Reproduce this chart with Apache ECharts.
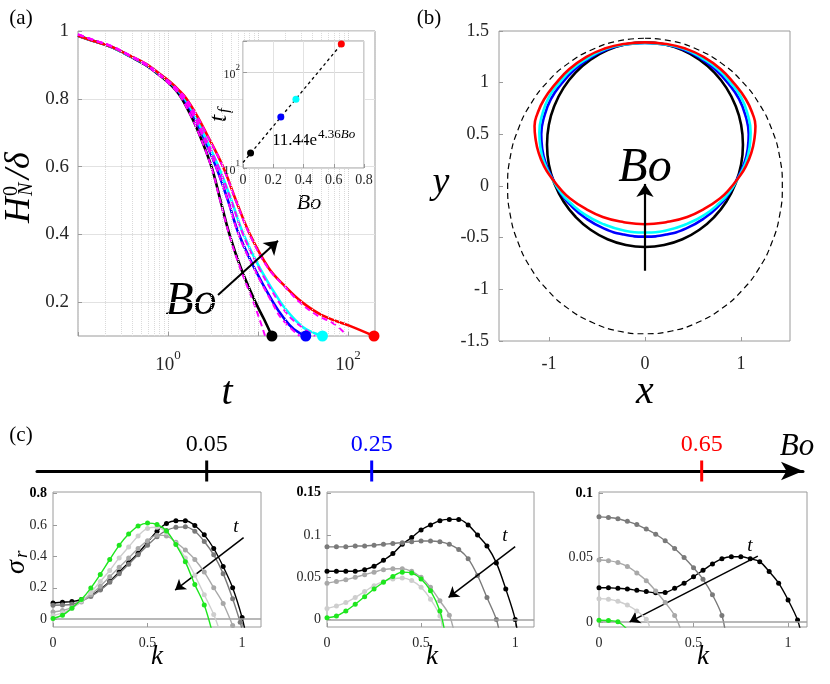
<!DOCTYPE html>
<html><head><meta charset="utf-8">
<script src="https://cdn.jsdelivr.net/npm/echarts@6/dist/echarts.min.js"></script>
<style>html,body{margin:0;padding:0;background:#fff}#c{width:830px;height:684px}</style>
</head><body><div id="c"></div>
<script>
// ---------------- DATA ----------------
// (a) H_N^0/delta versus t  (pairs [t, H])
const aBlack = [[0.1,0.986],[0.143,0.972],[0.239,0.952],[0.378,0.925],[0.562,0.9],[0.755,0.875],[0.987,0.85],[1.227,0.825],[1.431,0.8],[1.801,0.75],[2.193,0.7],[3.043,0.6],[3.831,0.5],[4.825,0.4],[6.473,0.3],[9.38,0.2],[11.66,0.15],[14.3,0.1]];
const aBlue = [[0.1,0.986],[0.143,0.972],[0.239,0.952],[0.378,0.926],[0.565,0.901],[0.774,0.875],[1.026,0.85],[1.275,0.825],[1.506,0.8],[1.92,0.75],[2.356,0.7],[3.415,0.6],[4.64,0.5],[6.15,0.4],[9.14,0.3],[14.7,0.2],[19.7,0.15],[25.1,0.12],[34,0.1]];
const aCyan = [[0.1,0.986],[0.143,0.972],[0.239,0.952],[0.378,0.926],[0.567,0.902],[0.784,0.875],[1.039,0.85],[1.292,0.825],[1.545,0.8],[1.995,0.75],[2.448,0.7],[3.64,0.6],[5.08,0.5],[6.9,0.4],[10.5,0.3],[17.8,0.2],[25.4,0.15],[34.1,0.12],[52.1,0.1]];
const aRed = [[0.1,0.986],[0.143,0.972],[0.239,0.953],[0.378,0.927],[0.57,0.903],[0.794,0.875],[1.052,0.85],[1.325,0.825],[1.605,0.8],[2.1,0.75],[2.643,0.7],[4.084,0.6],[5.7,0.5],[8.15,0.4],[13.2,0.3],[19.45,0.25],[30.8,0.2],[52.7,0.16],[105,0.13],[195,0.1]];
const aMagBlack = [[0.1,0.99],[0.143,0.975],[0.239,0.954],[0.378,0.926],[0.562,0.9],[0.755,0.874],[0.987,0.849],[1.227,0.824],[1.431,0.799],[1.801,0.749],[2.193,0.699],[3.02,0.6],[3.8,0.5],[4.78,0.4],[6.35,0.3],[8.9,0.2],[10.4,0.15],[12,0.1]];
const aMagBlue = [[0.1,0.99],[0.143,0.975],[0.239,0.954],[0.378,0.927],[0.565,0.901],[0.774,0.874],[1.026,0.849],[1.275,0.824],[1.506,0.799],[1.92,0.749],[2.356,0.699],[3.415,0.599],[4.64,0.499],[6.1,0.399],[9.0,0.3],[14.3,0.2],[18.5,0.15],[29,0.1]];
const aMagCyan = [[0.1,0.99],[0.143,0.975],[0.239,0.954],[0.378,0.927],[0.567,0.902],[0.784,0.874],[1.039,0.849],[1.292,0.824],[1.545,0.799],[1.995,0.749],[2.448,0.699],[3.64,0.599],[5.05,0.499],[6.85,0.399],[10.3,0.3],[17.1,0.2],[23.8,0.15],[43,0.1]];
const aMagRed = [[0.1,0.99],[0.143,0.975],[0.239,0.955],[0.378,0.928],[0.57,0.903],[0.794,0.874],[1.052,0.849],[1.325,0.824],[1.605,0.799],[2.1,0.749],[2.643,0.699],[4.084,0.599],[5.7,0.499],[8.1,0.399],[13.0,0.3],[19.2,0.25],[29,0.2],[46,0.16],[68,0.138],[97,0.103]];
const aMinorT = [0.2,0.3,0.4,0.5,0.6,0.7,0.8,0.9,2,3,4,5,6,7,8,9,20,30,40,50,60,70,80,90];
const aYTicks = [0.2,0.4,0.6,0.8,1];
const aArrow = [[3.6,0.221],[16.7,0.381]];
// inset: t_f versus Bo
const boVals = [0.05,0.25,0.35,0.65];
const tfVals = [14.3,34,52.1,195];
const fitLine = [[0,11.4],[0.66,203]];
const insetMinorTf = [20,30,40,50,60,70,80,90,200];

// (b) drop shapes [x, y]
const bDashed = [[0,1.43],[0.279,1.403],[0.547,1.321],[0.795,1.189],[1.011,1.011],[1.189,0.795],[1.321,0.547],[1.403,0.279],[1.43,0],[1.403,-0.279],[1.321,-0.547],[1.189,-0.795],[1.011,-1.011],[0.795,-1.189],[0.547,-1.321],[0.279,-1.403],[0,-1.43],[-0.279,-1.403],[-0.547,-1.321],[-0.795,-1.189],[-1.011,-1.011],[-1.189,-0.795],[-1.321,-0.547],[-1.403,-0.279],[-1.43,0],[-1.403,0.279],[-1.321,0.547],[-1.189,0.795],[-1.011,1.011],[-0.795,1.189],[-0.547,1.321],[-0.279,1.403],[0,1.43]];
const bBlack = [[0,1.39],[0.199,1.371],[0.39,1.315],[0.567,1.223],[0.721,1.10],[0.848,0.95],[0.942,0.779],[1.001,0.593],[1.02,0.40],[1.001,0.207],[0.942,0.021],[0.848,-0.15],[0.721,-0.30],[0.567,-0.423],[0.39,-0.515],[0.199,-0.571],[0,-0.59],[-0.199,-0.571],[-0.39,-0.515],[-0.567,-0.423],[-0.721,-0.30],[-0.848,-0.15],[-0.942,0.021],[-1.001,0.207],[-1.02,0.40],[-1.001,0.593],[-0.942,0.779],[-0.848,0.95],[-0.721,1.10],[-0.567,1.223],[-0.39,1.315],[-0.199,1.371],[0,1.39]];
const bBlue = [[0,1.385],[0.21,1.37],[0.40,1.32],[0.58,1.235],[0.74,1.12],[0.87,0.99],[0.98,0.84],[1.05,0.67],[1.08,0.50],[1.07,0.36],[1.03,0.21],[0.96,0.07],[0.87,-0.08],[0.77,-0.19],[0.62,-0.31],[0.43,-0.41],[0.22,-0.47],[0,-0.49],[-0.22,-0.47],[-0.43,-0.41],[-0.62,-0.31],[-0.77,-0.19],[-0.87,-0.08],[-0.96,0.07],[-1.03,0.21],[-1.07,0.36],[-1.08,0.50],[-1.05,0.67],[-0.98,0.84],[-0.87,0.99],[-0.74,1.12],[-0.58,1.235],[-0.40,1.32],[-0.21,1.37],[0,1.385]];
const bCyan = [[0,1.385],[0.21,1.37],[0.41,1.325],[0.59,1.24],[0.76,1.13],[0.89,1.0],[1.0,0.86],[1.07,0.69],[1.10,0.52],[1.09,0.38],[1.05,0.23],[0.96,0.06],[0.87,-0.07],[0.78,-0.16],[0.62,-0.28],[0.43,-0.37],[0.22,-0.43],[0,-0.45],[-0.22,-0.43],[-0.43,-0.37],[-0.62,-0.28],[-0.78,-0.16],[-0.87,-0.07],[-0.96,0.06],[-1.05,0.23],[-1.09,0.38],[-1.10,0.52],[-1.07,0.69],[-1.0,0.86],[-0.89,1.0],[-0.76,1.13],[-0.59,1.24],[-0.41,1.325],[-0.21,1.37],[0,1.385]];
const bRed = [[0,1.39],[0.22,1.375],[0.42,1.33],[0.61,1.25],[0.79,1.13],[0.93,0.99],[1.05,0.84],[1.12,0.70],[1.15,0.58],[1.14,0.46],[1.11,0.33],[1.05,0.19],[0.97,0.075],[0.88,-0.03],[0.78,-0.12],[0.62,-0.22],[0.44,-0.30],[0.22,-0.35],[0,-0.37],[-0.22,-0.35],[-0.44,-0.30],[-0.62,-0.22],[-0.78,-0.12],[-0.88,-0.03],[-0.97,0.075],[-1.05,0.19],[-1.11,0.33],[-1.14,0.46],[-1.15,0.58],[-1.12,0.70],[-1.05,0.84],[-0.93,0.99],[-0.79,1.13],[-0.61,1.25],[-0.42,1.33],[-0.22,1.375],[0,1.39]];
const bArrow = [[0,-0.82],[0,0.02]];
const bXTicks = [-1,0,1];

// (c) Bo axis
const boAxisTicks = [0.05,0.25,0.65];
const boAxisLabels = ['0.05','0.25','0.65'];

// (c) growth rate sigma_r versus k  ([k, sigma])
const c1Black = [[0,0.103],[0.05,0.108],[0.1,0.112],[0.15,0.125],[0.2,0.15],[0.25,0.19],[0.3,0.24],[0.35,0.3],[0.4,0.36],[0.45,0.42],[0.5,0.49],[0.55,0.56],[0.6,0.61],[0.65,0.627],[0.7,0.627],[0.75,0.597],[0.8,0.537],[0.85,0.45],[0.9,0.335],[0.95,0.2],[1.0,0.01],[1.02,-0.1]];
const c1Dark = [[0,0.089],[0.05,0.09],[0.1,0.095],[0.15,0.115],[0.2,0.145],[0.25,0.185],[0.3,0.235],[0.35,0.29],[0.4,0.35],[0.45,0.41],[0.5,0.47],[0.55,0.525],[0.6,0.565],[0.65,0.585],[0.7,0.588],[0.75,0.56],[0.8,0.495],[0.85,0.41],[0.9,0.29],[0.95,0.13],[0.99,-0.02],[1.0,-0.07]];
const c1Mid = [[0,0.046],[0.05,0.055],[0.1,0.075],[0.15,0.11],[0.2,0.155],[0.25,0.21],[0.3,0.27],[0.35,0.33],[0.4,0.39],[0.45,0.45],[0.5,0.5],[0.55,0.535],[0.6,0.53],[0.65,0.49],[0.7,0.44],[0.75,0.38],[0.8,0.3],[0.85,0.2],[0.9,0.1],[0.95,-0.04],[0.97,-0.1]];
const c1Light = [[0,0.023],[0.05,0.04],[0.1,0.07],[0.15,0.115],[0.2,0.17],[0.25,0.24],[0.3,0.31],[0.35,0.39],[0.4,0.46],[0.45,0.53],[0.5,0.578],[0.55,0.585],[0.6,0.55],[0.65,0.48],[0.7,0.39],[0.75,0.28],[0.8,0.155],[0.85,0.03],[0.88,-0.07]];
const c1Green = [[0,0.004],[0.05,0.025],[0.1,0.07],[0.15,0.125],[0.2,0.198],[0.25,0.285],[0.3,0.38],[0.35,0.47],[0.4,0.542],[0.45,0.593],[0.5,0.612],[0.55,0.603],[0.6,0.562],[0.65,0.475],[0.7,0.365],[0.75,0.22],[0.8,0.09],[0.85,-0.12]];
const c2Black = [[0,0.057],[0.05,0.057],[0.1,0.057],[0.15,0.057],[0.2,0.059],[0.25,0.063],[0.3,0.07],[0.35,0.078],[0.4,0.089],[0.45,0.097],[0.5,0.106],[0.55,0.112],[0.6,0.117],[0.65,0.1185],[0.7,0.1185],[0.75,0.112],[0.8,0.1],[0.85,0.087],[0.9,0.067],[0.95,0.036],[1.0,0.0],[1.02,-0.03]];
const c2Dark = [[0,0.086],[0.05,0.086],[0.1,0.086],[0.15,0.087],[0.2,0.087],[0.25,0.088],[0.3,0.089],[0.35,0.09],[0.4,0.091],[0.45,0.092],[0.5,0.093],[0.55,0.093],[0.6,0.092],[0.65,0.089],[0.7,0.083],[0.75,0.072],[0.8,0.052],[0.85,0.026],[0.9,0.0],[0.92,-0.02]];
const c2Mid = [[0,0.043],[0.05,0.045],[0.1,0.047],[0.15,0.05],[0.2,0.053],[0.25,0.056],[0.3,0.059],[0.35,0.06],[0.4,0.06],[0.45,0.057],[0.5,0.05],[0.55,0.038],[0.6,0.022],[0.65,0.005],[0.68,-0.02]];
const c2Light = [[0,0.013],[0.05,0.016],[0.1,0.02],[0.15,0.026],[0.2,0.033],[0.25,0.04],[0.3,0.045],[0.35,0.048],[0.4,0.049],[0.45,0.046],[0.5,0.038],[0.55,0.024],[0.6,0.004],[0.62,-0.02]];
const c2Green = [[0,0.002],[0.05,0.004],[0.1,0.01],[0.15,0.018],[0.2,0.027],[0.25,0.036],[0.3,0.044],[0.35,0.051],[0.4,0.056],[0.45,0.055],[0.5,0.048],[0.55,0.034],[0.6,0.01],[0.63,-0.02]];
const c3Black = [[0,0.0265],[0.05,0.0265],[0.1,0.026],[0.15,0.0255],[0.2,0.0245],[0.25,0.0235],[0.3,0.0225],[0.35,0.0228],[0.4,0.026],[0.45,0.03],[0.5,0.035],[0.55,0.04],[0.6,0.045],[0.65,0.049],[0.7,0.0505],[0.75,0.0505],[0.8,0.049],[0.85,0.0467],[0.9,0.039],[0.95,0.03],[1.0,0.017],[1.05,0.0015],[1.07,-0.01]];
const c3Dark = [[0,0.0815],[0.05,0.081],[0.1,0.08],[0.15,0.078],[0.2,0.0755],[0.25,0.072],[0.3,0.068],[0.35,0.063],[0.4,0.057],[0.45,0.05],[0.5,0.042],[0.55,0.033],[0.6,0.021],[0.65,0.005],[0.67,-0.01]];
const c3Mid = [[0,0.048],[0.05,0.0475],[0.1,0.046],[0.15,0.043],[0.2,0.038],[0.25,0.032],[0.3,0.024],[0.35,0.015],[0.4,0.005],[0.43,-0.005]];
const c3Light = [[0,0.018],[0.05,0.0175],[0.1,0.016],[0.15,0.013],[0.2,0.0085],[0.25,0.002],[0.27,-0.005]];
const c3Green = [[0,0.0012],[0.05,0.001],[0.1,0.0],[0.15,-0.006]];
const cArrows = [[[1.008,0.519],[0.646,0.185]],[[1.0,0.0863],[0.646,0.026]],[[0.84,0.051],[0.162,0.0]]];
const cYTicks = [[0,0.2,0.4,0.6,0.8],[0,0.05,0.1,0.15],[0,0.05,0.1]];
const cYRange = [[-0.05,0.81],[-0.009,0.151],[-0.004,0.1008]];
const cXTicks = [0,0.5,1];

// ---------------- STYLE ----------------
const SERIF = "'Liberation Serif','DejaVu Serif',serif";
const TXT = '#262626';
const BOX = '#9a9a9a';
const COL = {black:'#000000',blue:'#0000ff',cyan:'#00ffff',red:'#ff0000',mag:'#ff00ff',
  green:'#1ee61e',dark:'#7a7a7a',mid:'#a8a8a8',light:'#cecece'};
const boColors = [COL.black, COL.blue, COL.cyan, COL.red];
const boAxisColors = [COL.black, COL.blue, COL.red];
const f = (style, size) => style + ' ' + size + "px 'Liberation Serif','DejaVu Serif',serif";

const chart = echarts.init(document.getElementById('c'));

function gridOf(l,t,w,h,extra){return Object.assign({left:l,top:t,width:w,height:h,show:true,borderColor:BOX,borderWidth:1,containLabel:false,outerBoundsMode:'none'},extra||{});}
const tickStyle = {show:true,inside:true,length:4,lineStyle:{color:BOX}};
const noLine = {show:false,onZero:false};

const grids = [
  gridOf(78,31,297,305),
  gridOf(243,41,121,127,{zlevel:1,backgroundColor:'#fff'}),
  gridOf(499,31,291,310),
  {left:37,top:461,width:766,height:10,show:false,outerBoundsMode:'none'},
  gridOf(53,492,208,135),
  gridOf(327,492,207,135),
  gridOf(599,492,208,135)
];

function logFmt(keep){
  return function(v){
    const e = Math.round(Math.log10(v));
    if (Math.abs(Math.log10(v)-e) > 1e-6) return '';
    return keep.indexOf(e) >= 0 ? '{b|10}{s|' + e + '}' : '';
  };
}

const xAxes = [
  {type:'log',gridIndex:0,logBase:10,min:0.1,max:200,axisLine:noLine,axisTick:tickStyle,
   axisLabel:{margin:13,formatter:logFmt([0,2]),rich:{b:{fontFamily:SERIF,fontSize:19,color:TXT,verticalAlign:'bottom',lineHeight:26},s:{fontFamily:SERIF,fontSize:13,color:TXT,verticalAlign:'top'}}},
   splitLine:{show:true,lineStyle:{color:'#cfcfcf',type:'dotted',width:1}}},
  {type:'value',gridIndex:1,min:0,max:0.8,interval:0.2,zlevel:1,axisLine:noLine,axisTick:tickStyle,
   axisLabel:{margin:5,fontFamily:SERIF,fontSize:14,color:TXT},splitLine:{show:true,lineStyle:{color:'#e2e2e2'}}},
  {type:'value',gridIndex:2,min:-1.52,max:1.51,axisLine:noLine,
   axisTick:Object.assign({},tickStyle,{customValues:bXTicks}),
   axisLabel:{customValues:bXTicks,margin:14,fontFamily:SERIF,fontSize:18,color:TXT},splitLine:{show:false}},
  {type:'value',gridIndex:3,min:-0.1557,max:0.7728,
   axisLine:{show:true,onZero:false,symbol:['none','arrow'],symbolSize:[14,22],lineStyle:{color:'#000',width:3}},
   axisTick:{show:false},axisLabel:{show:false},splitLine:{show:false}}
];
const yAxes = [
  {type:'value',gridIndex:0,min:0.1,max:1,axisLine:noLine,
   axisTick:Object.assign({},tickStyle,{customValues:aYTicks}),
   axisLabel:{customValues:aYTicks,margin:9,fontFamily:SERIF,fontSize:19,color:TXT},
   splitLine:{show:true,lineStyle:{color:'#e2e2e2'}}},
  {type:'log',gridIndex:1,logBase:10,min:10,max:210,zlevel:1,axisLine:noLine,axisTick:tickStyle,
   axisLabel:{margin:3,formatter:logFmt([1,2]),rich:{b:{fontFamily:SERIF,fontSize:12,color:TXT,verticalAlign:'bottom',lineHeight:17},s:{fontFamily:SERIF,fontSize:9,color:TXT,verticalAlign:'top'}}},
   splitLine:{show:true,lineStyle:{color:'#d6d6d6'}}},
  {type:'value',gridIndex:2,min:-1.5,max:1.5,interval:0.5,axisLine:noLine,axisTick:tickStyle,
   axisLabel:{margin:10,fontFamily:SERIF,fontSize:18,color:TXT},splitLine:{show:false}},
  {type:'value',gridIndex:3,min:-1,max:1,show:false}
];
for (let i=0;i<3;i++){
  const top = cYTicks[i][cYTicks[i].length-1];
  xAxes.push({type:'value',gridIndex:4+i,min:0,max:1.1,axisLine:noLine,
    axisTick:Object.assign({},tickStyle,{customValues:cXTicks}),
    axisLabel:{customValues:cXTicks,margin:9,fontFamily:SERIF,fontSize:14,color:TXT},splitLine:{show:false}});
  yAxes.push({type:'value',gridIndex:4+i,min:cYRange[i][0],max:cYRange[i][1],axisLine:noLine,
    axisTick:Object.assign({},tickStyle,{customValues:cYTicks[i]}),
    axisLabel:{customValues:cYTicks[i],margin:6,fontFamily:SERIF,fontSize:14,color:TXT,
      formatter:(v)=> (Math.abs(v-top)<1e-9 ? '{b|'+v+'}' : String(v)),
      rich:{b:{fontFamily:SERIF,fontSize:14,fontWeight:'bold',color:'#000'}}},
    splitLine:{show:false}});
}

const series = [];
function helper(ax, pt, markLine, extra){
  return Object.assign({type:'line',xAxisIndex:ax,yAxisIndex:ax,data:[pt],showSymbol:false,symbolSize:0,silent:true,
    lineStyle:{width:0},itemStyle:{color:'#000',opacity:1},markLine:markLine,animation:false},extra||{});
}
function arrowML(pairs, width, size){
  return {silent:true,symbol:['none','arrow'],symbolSize:size,label:{show:false},animation:false,
    itemStyle:{color:'#000',opacity:1},
    lineStyle:{color:'#000',width:width,type:'solid',opacity:1},
    data:pairs.map(p=>[{coord:p[0]},{coord:p[1]}])};
}
// (a)
series.push(helper(0,[1,0.5],{silent:true,symbol:'none',label:{show:false},animation:false,
  lineStyle:{color:'#dadada',type:'dotted',width:1},data:aMinorT.map(v=>({xAxis:v}))},{z:1}));
[[aBlack,COL.black],[aBlue,COL.blue],[aCyan,COL.cyan],[aRed,COL.red]].forEach(([d,c])=>{
  series.push({type:'line',xAxisIndex:0,yAxisIndex:0,data:d,smooth:0.4,symbol:'none',
    lineStyle:{color:c,width:2.6},z:3,animation:false});
});
[aMagBlack,aMagBlue,aMagCyan,aMagRed].forEach(d=>{
  series.push({type:'line',xAxisIndex:0,yAxisIndex:0,data:d,smooth:0.4,symbol:'none',
    lineStyle:{color:COL.mag,width:2,type:[6,4]},z:4,animation:false});
});
series.push({type:'scatter',xAxisIndex:0,yAxisIndex:0,clip:false,symbolSize:11,z:6,animation:false,
  itemStyle:{opacity:1},
  data:tfVals.map((t,i)=>({value:[t,0.1],itemStyle:{color:boColors[i],opacity:1}}))});
series.push(helper(0,aArrow[0],arrowML([aArrow],2,13),{z:7}));
// inset
series.push(helper(1,[0.1,20],{silent:true,symbol:'none',label:{show:false},animation:false,
  lineStyle:{color:'#dcdcdc',type:'solid',width:1},data:insetMinorTf.map(v=>({yAxis:v}))},{z:1,zlevel:1}));
series.push({type:'line',xAxisIndex:1,yAxisIndex:1,data:fitLine,symbol:'none',zlevel:1,z:3,animation:false,
  lineStyle:{color:'#000',width:1.3,type:[3,3]}});
series.push({type:'scatter',xAxisIndex:1,yAxisIndex:1,zlevel:1,z:4,symbolSize:7,clip:false,animation:false,
  itemStyle:{opacity:1},
  data:boVals.map((b,i)=>({value:[b,tfVals[i]],itemStyle:{color:boColors[i],opacity:1}}))});
// (b)
series.push({type:'line',xAxisIndex:2,yAxisIndex:2,data:bDashed,smooth:0.5,symbol:'none',z:2,animation:false,
  lineStyle:{color:'#000',width:1.2,type:[6,4]}});
[[bBlack,COL.black],[bBlue,COL.blue],[bCyan,COL.cyan],[bRed,COL.red]].forEach(([d,c])=>{
  series.push({type:'line',xAxisIndex:2,yAxisIndex:2,data:d,smooth:0.5,symbol:'none',z:3,animation:false,
    lineStyle:{color:c,width:2.6}});
});
series.push(helper(2,bArrow[0],arrowML([bArrow],2.2,13),{z:7}));
// Bo axis ticks
series.push({type:'scatter',xAxisIndex:3,yAxisIndex:3,clip:false,symbol:'rect',symbolSize:[3,21],animation:false,
  itemStyle:{opacity:1},
  data:boAxisTicks.map((b,i)=>({value:[b,-1],itemStyle:{color:boAxisColors[i],opacity:1},
    label:{show:true,position:'top',distance:4,formatter:boAxisLabels[i],color:boAxisColors[i],opacity:1,fontFamily:SERIF,fontSize:24}}))});
// (c)
const cSets = [[c1Black,c1Dark,c1Mid,c1Light,c1Green],[c2Black,c2Dark,c2Mid,c2Light,c2Green],[c3Black,c3Dark,c3Mid,c3Light,c3Green]];
const cCols = [COL.black,COL.dark,COL.mid,COL.light,COL.green];
cSets.forEach((set,i)=>{
  const ax = 4+i;
  series.push(helper(ax,[0.5,0],{silent:true,symbol:'none',label:{show:false},animation:false,
    lineStyle:{color:'#a0a0a0',width:1.6,type:'solid'},data:[{yAxis:0}]},{z:1}));
  set.forEach((d,j)=>{
    series.push({type:'line',xAxisIndex:ax,yAxisIndex:ax,data:d,smooth:0.35,symbol:'circle',symbolSize:5,
      showSymbol:true,clip:true,z:3+j,animation:false,lineStyle:{color:cCols[j],width:1.4},itemStyle:{color:cCols[j],opacity:1}});
  });
  series.push(helper(ax,cArrows[i][0],arrowML([cArrows[i]],1.5,10),{z:9}));
});

function txt(x,y,text,font,extra){
  return Object.assign({type:'text',x:x,y:y,style:{text:text,font:font,fill:'#000',
    align:'center',verticalAlign:'middle',textAlign:'center',textVerticalAlign:'middle'}},extra||{});
}
function ltxt(x,y,text,font){
  return {type:'text',x:x,y:y,style:{text:text,font:font,fill:'#000',align:'left',verticalAlign:'middle',textAlign:'left',textVerticalAlign:'middle'}};
}
const graphic = [
  txt(21,18,'(a)',f('normal',21)),
  txt(429,18,'(b)',f('normal',21)),
  txt(21,435,'(c)',f('normal',21)),
  {type:'group',x:20,y:223,rotation:Math.PI/2,children:[
    ltxt(0,0,'H',f('italic',36)),
    ltxt(27,-8,'0',f('normal',20)),
    ltxt(27,7,'N',f('italic',20)),
    ltxt(44,0,'/δ',f('italic',36))
  ]},
  txt(227,393,'t',f('italic',40)),
  txt(191,302,'Bo',f('italic',46)),
  {type:'group',x:221,y:122,rotation:Math.PI/2,zlevel:1,children:[
    ltxt(0,-2,'t',f('italic',26)),
    ltxt(9,4,'f',f('italic',17))
  ]},
  txt(309,203,'Bo',f('italic',22)),
  Object.assign(ltxt(272,141,'11.44e',f('normal',17)),{zlevel:1}),
  {type:'text',x:318,y:135,zlevel:1,style:{text:'{a|4.36}{b|Bo}',rich:{a:{font:f('normal',13)},b:{font:f('italic',13)}},fill:'#000',align:'left',verticalAlign:'middle',textAlign:'left',textVerticalAlign:'middle'}},
  txt(441,183,'y',f('italic',38)),
  txt(645,392,'x',f('italic',40)),
  txt(645,168,'Bo',f('italic',48)),
  txt(797,447,'Bo',f('italic',31)),
  {type:'group',x:17,y:574,rotation:Math.PI/2,children:[
    ltxt(0,0,'σ',f('italic',28)),
    ltxt(16,5,'r',f('italic',19))
  ]},
  txt(157,657,'k',f('italic',27)),
  txt(432,657,'k',f('italic',27)),
  txt(703,657,'k',f('italic',27)),
  txt(236,527,'t',f('italic',19)),
  txt(505,536,'t',f('italic',19)),
  txt(750,546,'t',f('italic',19))
];

chart.setOption({
  animation:false,
  backgroundColor:'#ffffff',
  grid:grids,
  xAxis:xAxes,
  yAxis:yAxes,
  series:series,
  graphic:graphic
});
</script></body></html>
